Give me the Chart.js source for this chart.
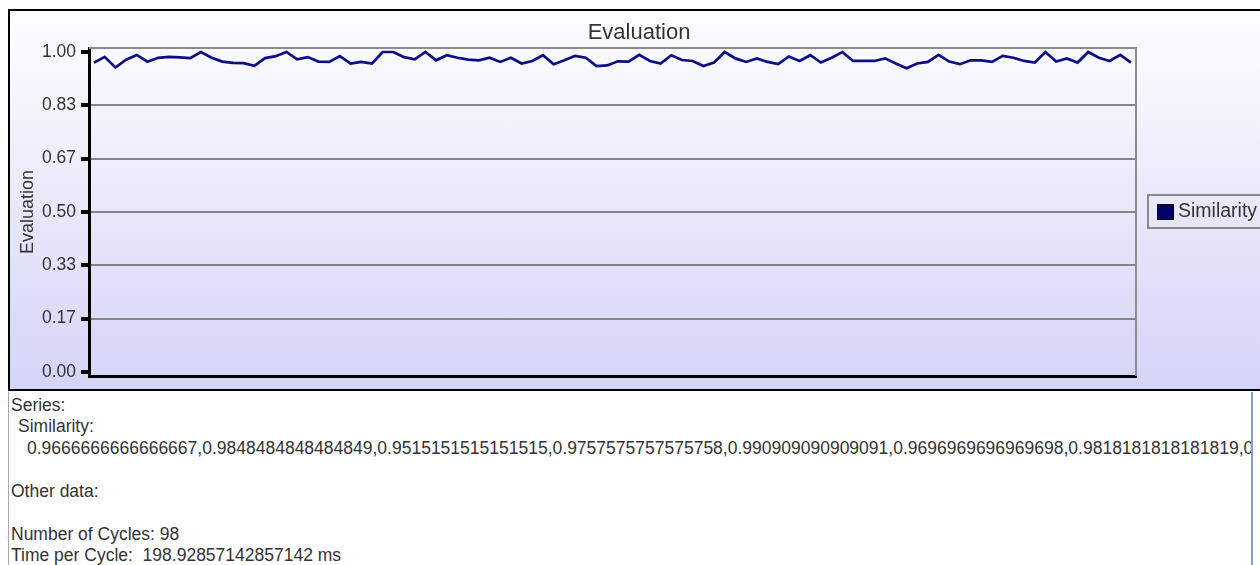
<!DOCTYPE html>
<html>
<head>
<meta charset="utf-8">
<title>Evaluation</title>
<script src="https://cdn.jsdelivr.net/npm/chart.js@4.4.1/dist/chart.umd.min.js"></script>
<style>
  html, body { margin: 0; padding: 0; width: 1260px; height: 565px; overflow: hidden; background: #fff; font-family: "Liberation Sans", Arial, sans-serif; }
  #panel { position: absolute; left: 8px; top: 9px; width: 1400px; height: 378px; border: 2px solid #000; background: linear-gradient(#fefeff, #d4d4f6); }
  #panel canvas { position: absolute; left: 0; top: 0; }
  #legend { position: absolute; left: 1147px; top: 194px; width: 140px; height: 31px; border: 2px solid #8a8a8a; color: #333; font-size: 19.5px; }
  #legend .sw { position: absolute; left: 8px; top: 8px; width: 15px; height: 14px; border: 1px solid #000; }
  #legend .lb { position: absolute; left: 29px; top: 4px; line-height: 21px; }
  #info { position: absolute; left: 8px; top: 392px; width: 1245px; height: 180px; padding-top: 3px; box-sizing: border-box; background: #fff; border-left: 1px solid #a8a8a8; border-right: 2px solid #7f9fd6; color: #333; font-size: 17.5px; line-height: 21.45px; white-space: pre; overflow: hidden; }
  #info div { height: 21.45px; }
</style>
</head>
<body>
<div id="panel"><canvas id="chart" width="1258" height="378"></canvas></div>
<div id="legend"></div>
<div id="info"></div>
<script>
// similarity per evaluation cycle
var similarity = [
  0.9666666666666667, 0.9848484848484849, 0.9515151515151515, 0.9757575757575758, 0.990909090909091,
  0.9696969696969698, 0.9818181818181819, 0.985, 0.983, 0.981,
  1.0, 0.982, 0.970, 0.966, 0.965, 0.957, 0.981, 0.987, 1.0, 0.977,
  0.984, 0.970, 0.969, 0.987, 0.964, 0.969, 0.964, 1.0, 1.0, 0.984,
  0.977, 1.0, 0.974, 0.990, 0.982, 0.976, 0.974, 0.982, 0.969, 0.982,
  0.964, 0.972, 0.990, 0.962, 0.974, 0.988, 0.982, 0.956, 0.958, 0.971,
  0.970, 0.991, 0.972, 0.964, 0.990, 0.975, 0.972, 0.956, 0.967, 1.0,
  0.980, 0.969, 0.980, 0.969, 0.962, 0.986, 0.972, 0.990, 0.967, 0.982,
  1.0, 0.972, 0.972, 0.972, 0.980, 0.964, 0.949, 0.964, 0.969, 0.991,
  0.970, 0.962, 0.974, 0.974, 0.969, 0.988, 0.982, 0.972, 0.967, 1.0,
  0.970, 0.980, 0.967, 1.0, 0.982, 0.972, 0.991, 0.967
];
var cycles = similarity.map(function (v, i) { return i + 1; });
var yTicks = [0, 0.1667, 0.3333, 0.5, 0.6667, 0.8333, 1];
var seriesName = 'Similarity';
var seriesColor = '#000066';
var timePerCycle = 198.92857142857142;

Chart.defaults.font.family = "'Liberation Sans', Arial, sans-serif";
Chart.defaults.color = '#333';

// gray frame along the top and right of the plot
var plotFrame = {
  id: 'plotFrame',
  beforeDatasetsDraw: function (chart) {
    var ctx = chart.ctx, a = chart.chartArea;
    ctx.save();
    ctx.strokeStyle = '#8c8c8c';
    ctx.lineWidth = 2;
    ctx.beginPath();
    ctx.moveTo(a.left, a.top);
    ctx.lineTo(a.right, a.top);
    ctx.lineTo(a.right, a.bottom);
    ctx.stroke();
    ctx.restore();
  }
};

var chart = new Chart(document.getElementById('chart'), {
  type: 'line',
  data: {
    datasets: [{
      label: seriesName,
      data: cycles.map(function (c, i) { return { x: c, y: similarity[i] }; }),
      borderColor: '#0c0c86',
      backgroundColor: seriesColor,
      borderWidth: 2.7,
      pointRadius: 0,
      tension: 0
    }]
  },
  options: {
    responsive: false,
    animation: false,
    layout: { padding: { left: 0, right: 0, top: 0, bottom: 13 } },
    plugins: {
      legend: { display: false },
      tooltip: { enabled: false },
      title: {
        display: true,
        text: 'Evaluation',
        color: '#333',
        font: { size: 22, weight: 'normal' },
        padding: { top: 9, bottom: 1.6 }
      }
    },
    scales: {
      x: {
        type: 'linear',
        min: 0.53,
        max: 98.47,
        ticks: { display: false },
        grid: { display: false, drawTicks: false },
        border: { color: '#000', width: 3 },
        afterFit: function (s) { s.height = 0; }
      },
      y: {
        min: -0.0125,
        max: 1.0125,
        afterBuildTicks: function (s) { s.ticks = yTicks.map(function (v) { return { value: v }; }); },
        afterFit: function (s) { s.width = 79; s.paddingTop = 0; s.paddingBottom = 0; },
        ticks: {
          color: '#333',
          font: { size: 17.5 },
          padding: 5,
          callback: function (v) { return v.toFixed(2); }
        },
        grid: {
          color: function (c) { return (c.tick && c.tick.value > 0 && c.tick.value < 1) ? '#858585' : 'rgba(0,0,0,0)'; },
          lineWidth: 2,
          tickLength: 8,
          tickWidth: 4,
          tickColor: '#000'
        },
        border: { color: '#000', width: 3 },
        title: {
          display: true,
          text: 'Evaluation',
          color: '#333',
          font: { size: 18 },
          padding: { top: 7, bottom: 0 }
        }
      },
      // empty strip on the right that leaves room for the legend box
      side: {
        type: 'linear',
        position: 'right',
        ticks: { display: false },
        grid: { display: false, drawTicks: false },
        border: { display: false },
        afterFit: function (s) { s.width = 132; }
      }
    }
  },
  plugins: [plotFrame]
});

// legend box built from the dataset
var ds = chart.data.datasets[0];
document.getElementById('legend').innerHTML =
  '<span class="sw" style="background:' + ds.backgroundColor + '"></span><span class="lb">' + ds.label + '</span>';

// text panel under the chart
var lines = [
  ['Series:', 2],
  [seriesName + ':', 9],
  [similarity.join(','), 18],
  ['', 0],
  ['Other data:', 2],
  ['', 0],
  ['Number of Cycles: ' + similarity.length, 2],
  ['Time per Cycle:  ' + timePerCycle + ' ms', 2]
];
document.getElementById('info').innerHTML = lines.map(function (l) {
  return '<div style="padding-left:' + l[1] + 'px">' + l[0] + '</div>';
}).join('');
</script>
</body>
</html>
